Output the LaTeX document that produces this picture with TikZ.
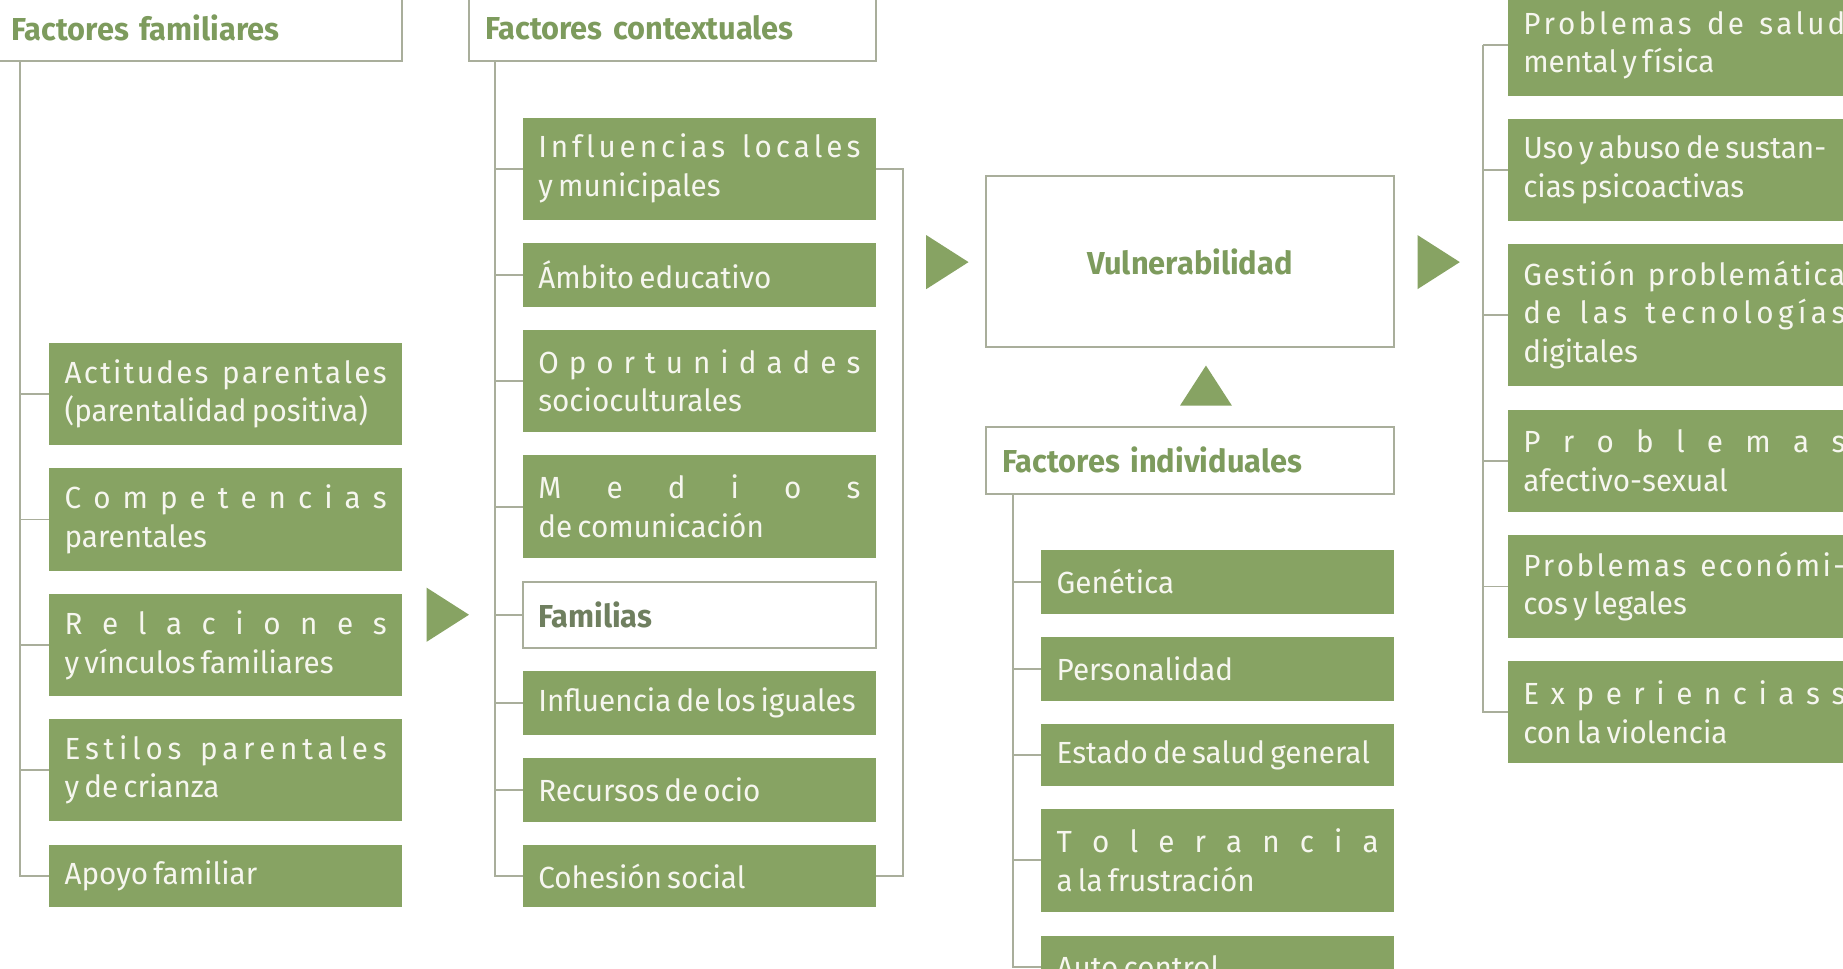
\documentclass[tikz,border=0pt]{standalone}
\usepackage{fontspec}
\setmainfont[FakeStretch=0.97]{Fira Sans}
\usetikzlibrary{calc}
\definecolor{bg}{HTML}{87A363}
\definecolor{tx}{HTML}{F6F6EF}
\definecolor{ln}{HTML}{A9AE9B}
\definecolor{hd}{HTML}{7D9B5D}
\definecolor{fm}{HTML}{6F7F5F}
\newlength\tw \setlength\tw{137pt}
\makeatletter
\newcommand\LSw[1]{\let\ls@sep\relax\@tfor\ls@c:=#1\do{\ls@sep\ls@c\def\ls@sep{\hfil}}}
\makeatother
\newcommand\JL[1]{\makebox[\tw][s]{#1}}
\newcommand\WG{\hfil\hskip0.3em\hfil}
\newcommand\T{\spaceskip=0.17em plus 0.1em minus 0.03em\xspaceskip=\spaceskip\relax}
\newcommand\boxfont{\fontsize{13}{16.5}\selectfont}
\newcommand\hdfont{\bfseries\fontsize{13.5}{16.5}\selectfont}
\tikzset{
  gbox/.style={fill=bg, text=tx, text width=137pt, inner xsep=6.5pt, inner ysep=0pt,
    align=left, font=\boxfont, minimum height=#1},
  gbox/.default=43.5pt,
  hbox/.style={fill=white, draw=ln, line width=0.8pt, text=hd, inner xsep=7pt, inner ysep=0pt,
    align=left, font=\hdfont, minimum height=28.5pt},
  ln/.style={draw=ln, line width=0.8pt},
  tri/.style={fill=bg}
}
\begin{document}
\begin{tikzpicture}[x=0.5pt,y=-0.5pt]
\useasboundingbox (0,0) rectangle (1568,824);
\clip (0,0) rectangle (1568,824);
\fill[white] (0,0) rectangle (1568,824);

% Factores familiares
\node[hbox, text width=159pt] (ff) at (169,23.5) {Factores familiares};
\node[gbox] (fa1) at (192,335) {\T\JL{\LSw{Actitudes}\WG\LSw{parentales}}\\(parentalidad positiva)};
\node[gbox] (fa2) at (192,442) {\T\JL{\LSw{Competencias}}\\parentales};
\node[gbox] (fa3) at (192,549) {\T\JL{\LSw{Relaciones}}\\y vínculos familiares};
\node[gbox] (fa4) at (192,655) {\T\JL{\LSw{Estilos}\WG\LSw{parentales}}\\y de crianza};
\node[gbox=26.5pt] (fa5) at (192,745.5) {\T Apoyo familiar};

% Factores contextuales
\node[hbox, text width=159pt] (fc) at (572,23.5) {Factores contextuales};
\node[gbox] (c1) at (595,143.5) {\T\JL{\LSw{Influencias}\WG\LSw{locales}}\\y municipales};
\node[gbox=27pt] (c2) at (595,234) {\T Ámbito educativo};
\node[gbox] (c3) at (595,324) {\T\JL{\LSw{Oportunidades}}\\socioculturales};
\node[gbox] (c4) at (595,431) {\T\JL{\LSw{Medios}}\\de comunicación};
\node[gbox=28pt, fill=white, draw=ln, line width=0.8pt, text=fm, font=\hdfont] (c5) at (595,523) {Familias};
\node[gbox=27pt] (c6) at (595,598) {\T Influencia de los iguales};
\node[gbox=27pt] (c7) at (595,672) {\T Recursos de ocio};
\node[gbox=26.5pt] (c8) at (595,745.5) {\T Cohesión social};

% Vulnerabilidad
\node[hbox, align=center, minimum width=173.5pt, minimum height=72.5pt] (vu) at (1012.5,222.5) {Vulnerabilidad};

% Factores individuales
\node[hbox, text width=159.5pt] (fi) at (1012.5,391.5) {Factores individuales};
\node[gbox=27pt] (i1) at (1036,495) {Genética};
\node[gbox=27pt] (i2) at (1036,569) {Personalidad};
\node[gbox=26.5pt] (i3) at (1036,642.5) {\T Estado de salud general};
\node[gbox] (i4) at (1036,732) {\T\JL{\LSw{Tolerancia}}\\a la frustración};
\node[gbox=27pt] (i5) at (1036,823) {\T Auto control};

% Consecuencias
\node[gbox] (r1) at (1433,38.5) {\T\JL{\LSw{Problemas}\WG\LSw{de}\WG\LSw{salud}}\\mental y física};
\node[gbox] (r2) at (1433,144.5) {\T Uso y abuso de sustan-\\cias psicoactivas};
\node[gbox=60pt] (r3) at (1433,268) {\T\JL{\LSw{Gestión}\WG\LSw{problemática}}\\\JL{\LSw{de}\WG\LSw{las}\WG\LSw{tecnologías}}\\digitales};
\node[gbox] (r4) at (1433,392) {\T\JL{\LSw{Problemas}}\\afectivo-sexual};
\node[gbox] (r5) at (1433,499) {\T\JL{\LSw{Problemas}\WG\LSw{económi-}}\\cos y legales};
\node[gbox] (r6) at (1433,606) {\T\JL{\LSw{Experienciass}}\\con la violencia};

% tree lines
\coordinate (ffv) at ($(ff.south west)+(22,0)$);
\foreach \n in {fa1,fa2,fa3,fa4,fa5} \draw[ln] (ffv) |- (\n.west);
\coordinate (fcv) at ($(fc.south west)+(23,0)$);
\foreach \n in {c1,c2,c3,c4,c5,c6,c7,c8} \draw[ln] (fcv) |- (\n.west);
\draw[ln] (c1.east) -- ++(23,0) |- (c8.east);
\coordinate (fiv) at ($(fi.south west)+(24,0)$);
\foreach \n in {i1,i2,i3,i4,i5} \draw[ln] (fiv) |- (\n.west);
\coordinate (rv) at ($(r1.west)+(-21,0)$);
\draw[ln] (rv) -- (r1.west);
\foreach \n in {r2,r3,r4,r5,r6} \draw[ln] (rv) |- (\n.west);

% arrows
\fill[tri] (363,500) -- (363,546) -- (399,523) -- cycle;
\fill[tri] (788,200) -- (788,246) -- (824,223) -- cycle;
\fill[tri] (1206,200) -- (1206,246) -- (1242,223) -- cycle;
\fill[tri] (1004,345) -- (1048,345) -- (1026,311) -- cycle;
\end{tikzpicture}
\end{document}
